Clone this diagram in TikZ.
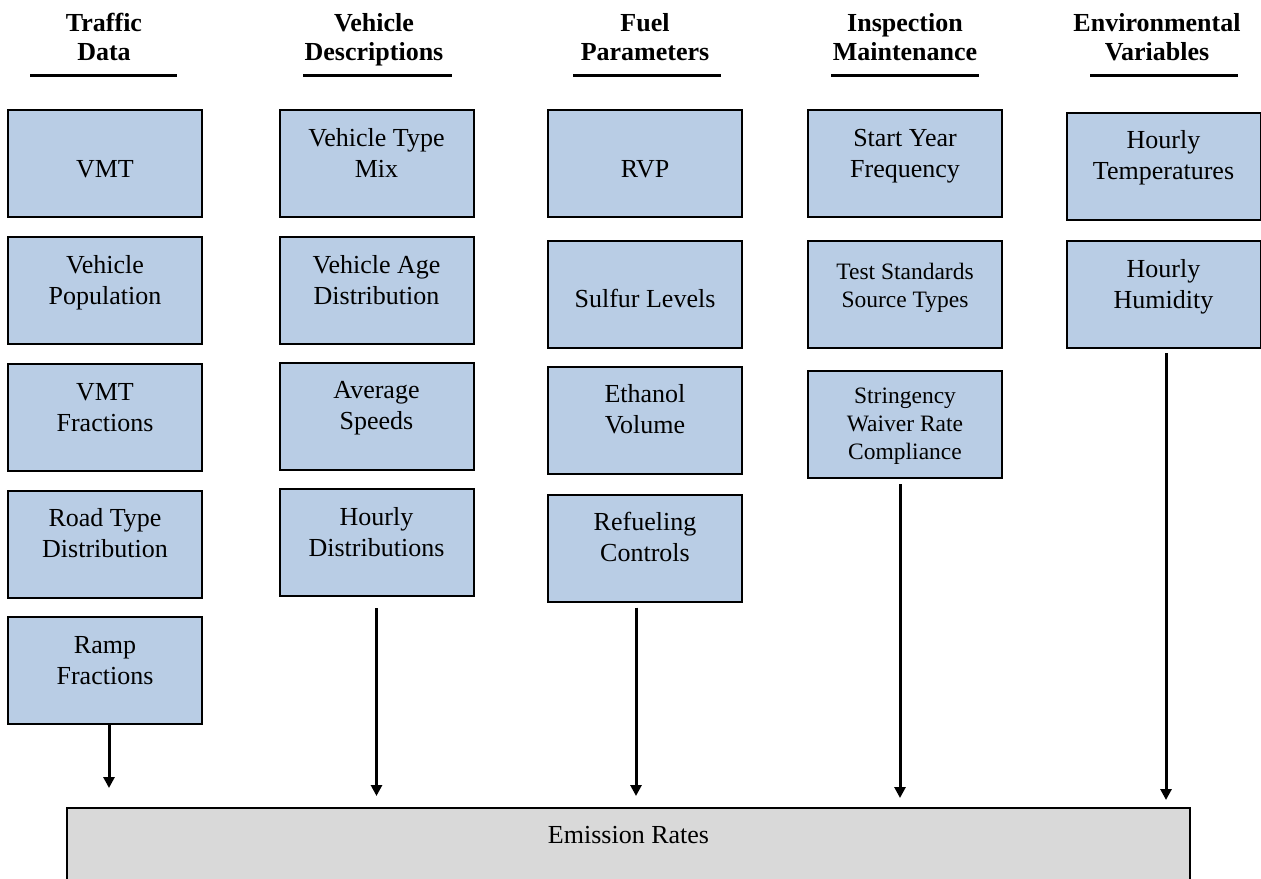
\documentclass[tikz,border=0pt]{standalone}
\usepackage{fontspec}
\setmainfont{Liberation Serif}
\usepackage{tikz}
\usetikzlibrary{arrows.meta, calc}
\definecolor{paleblue}{RGB}{185,205,229}
\definecolor{palegray}{RGB}{217,217,217}

\begin{document}
\begin{tikzpicture}[x=0.5pt, y=-0.5pt]
			\tikzstyle{inbox}=[rectangle, draw=black, line width=1pt, fill=paleblue, minimum width=97pt, minimum height=53.5pt, inner sep=0pt, align=center, font=\fontsize{13}{15.5}\selectfont, text height=14pt, text depth=0.5pt]
			\tikzstyle{inboxs}=[inbox, font=\fontsize{11.75}{14}\selectfont]
			\tikzstyle{head}=[anchor=base, align=center, font=\bfseries\fontsize{13}{14.5}\selectfont]
			\tikzstyle{flow}=[line width=1.5pt, -{Triangle[width=5.5pt,length=5.5pt]}]
			\useasboundingbox (0,0) rectangle (1261,878);
			%% column headers
			\node (h1) at (104,60) [head] {Traffic\\Data};
			\node (h2) at (374,60) [head] {Vehicle\\Descriptions};
			\node (h3) at (645,60) [head] {Fuel\\Parameters};
			\node (h4) at (905,60) [head] {Inspection\\Maintenance};
			\node (h5) at (1157,60) [head] {Environmental\\Variables};
			\foreach \a/\b in {30/177, 303/452, 573/721, 831/979, 1090/1238}
				\draw[line width=1.5pt] (\a,75) -- (\b,75);
			%% traffic data
			\node (td1) at (105,163.5) [inbox] {VMT};
			\node (td2) at (105,290.5) [inbox] {Vehicle\\Population};
			\node (td3) at (105,417.5) [inbox] {VMT\\Fractions};
			\node (td4) at (105,544) [inbox] {Road Type\\Distribution};
			\node (td5) at (105,670.5) [inbox] {Ramp\\Fractions};
			%% vehicle descriptions
			\node (vd1) at (376.5,163.5) [inbox] {Vehicle Type\\Mix};
			\node (vd2) at (376.5,290.5) [inbox] {Vehicle Age\\Distribution};
			\node (vd3) at (376.5,416) [inbox] {Average\\Speeds};
			\node (vd4) at (376.5,542.5) [inbox] {Hourly\\Distributions};
			%% fuel parameters
			\node (fp1) at (645,163.5) [inbox] {RVP};
			\node (fp2) at (645,294) [inbox] {Sulfur Levels};
			\node (fp3) at (645,420) [inbox] {Ethanol\\Volume};
			\node (fp4) at (645,548) [inbox] {Refueling\\Controls};
			%% inspection maintenance
			\node (im1) at (905,163.5) [inbox] {Start Year\\Frequency};
			\node (im2) at (905,294) [inboxs] {Test Standards\\Source Types};
			\node (im3) at (905,424.5) [inboxs, text height=35pt, text depth=0.5pt] {Stringency\\Waiver Rate\\Compliance};
			%% environmental variables
			\node (ev1) at (1163.5,166) [inbox] {Hourly\\Temperatures};
			\node (ev2) at (1163.5,294.5) [inbox] {Hourly\\Humidity};
			
			\node (er) at (628.5,807) [inbox, anchor=north, fill=palegray, line width=0.75pt, minimum width=561.5pt, minimum height=40pt, text height=9pt, text depth=13pt] {Emission Rates};
			
			\draw[flow, shorten >=9.5pt] ([xshift=2pt]td5.south) -- ([xshift=2pt]td5.south |- er.north);
			\draw[flow, shorten >=5.5pt] ([yshift=-5.5pt]vd4.south) -- (vd4.south |- er.north);
			\draw[flow, shorten >=5.5pt] ([xshift=-4.5pt, yshift=-2.5pt]fp4.south) -- ([xshift=-4.5pt]fp4.south |- er.north);
			\draw[flow, shorten >=4.5pt] ([xshift=-2.5pt, yshift=-2.5pt]im3.south) -- ([xshift=-2.5pt]im3.south |- er.north);
			\draw[flow, shorten >=3.5pt] ([xshift=1.25pt, yshift=-2pt]ev2.south) -- ([xshift=1.25pt]ev2.south |- er.north);
\end{tikzpicture}
\end{document}
